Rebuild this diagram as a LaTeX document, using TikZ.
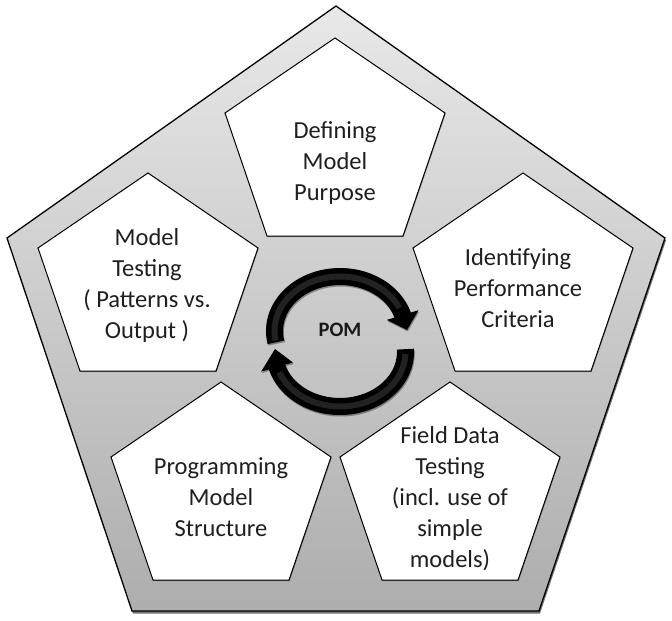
\documentclass[tikz,border=0pt]{standalone}
\usepackage{fontspec}
\setmainfont{Carlito}
\usetikzlibrary{shadows}
\begin{document}
\begin{tikzpicture}[x=1pt,y=-1pt,
  outerpent/.style={draw=black, line width=1.3pt, top color=white!91!black, bottom color=white!68!black,
    drop shadow={shadow xshift=1pt, shadow yshift=-2.5pt, opacity=0.55, fill=black}},
  innerpent/.style={draw=black, line width=1pt, fill=white,
    drop shadow={shadow xshift=0.6pt, shadow yshift=-1.2pt, opacity=0.35, fill=black}},
  lbl/.style={font=\fontsize{24.5}{31}\selectfont, align=center, text=black!88, inner sep=0pt},
  pomlbl/.style={font=\fontsize{20.5}{24}\selectfont\bfseries, text=black!90, inner sep=0pt},
  arrowbody/.style={fill=black, drop shadow={shadow xshift=0.8pt, shadow yshift=-1.5pt, opacity=0.35, fill=black}},
  gloss/.style={draw=white!45!black, line width=6pt, opacity=0.3, line cap=butt},
  pent/.pic={\path[innerpent] (0,0) -- (110,75) -- (68,198) -- (-68,198) -- (-110,75) -- cycle;}
]
\useasboundingbox (0,0) rectangle (672,621);
% outer pentagon
\path[outerpent] (336,6) -- (665,238) -- (539,611) -- (132,611) -- (7,238) -- cycle;
% inner pentagons
\pic (pdef) at (335,38) {pent};
\pic (pid) at (523,173) {pent};
\pic (pmt) at (148,173) {pent};
\pic (ppr) at (221,382) {pent};
\pic (pfd) at (450,382) {pent};
% labels
\node[lbl] (def) at (335,163) {Defining\\Model\\Purpose};
\node[lbl] (ident) at (518,288) {Identifying\\Performance\\Criteria};
\node[lbl] (mtest) at (147,285) {Model\\Testing\\( Patterns vs.\\Output )};
\node[lbl] (prog) at (221,497) {Programming\\Model\\Structure};
\node[lbl] (field) at (450,499) {Field Data\\Testing\\(incl. use of\\simple\\models)};
% circular arrows
\path[arrowbody] ({340+74*cos(168)},{331+63*sin(168)}) arc[start angle=168, end angle=343, x radius=74, y radius=63]
  -- ({340+82*cos(343)},{331+71*sin(343)}) -- (407,330)
  -- ({340+49*cos(343)},{331+38*sin(343)}) -- ({340+57*cos(343)},{331+46*sin(343)})
  arc[start angle=343, end angle=168, x radius=57, y radius=46] -- cycle;
\path[arrowbody] ({340+74*cos(-3)},{352+63*sin(-3)}) arc[start angle=-3, end angle=164, x radius=74, y radius=63]
  -- ({340+82*cos(164)},{352+71*sin(164)}) -- (275,349)
  -- ({340+49*cos(164)},{352+38*sin(164)}) -- ({340+57*cos(164)},{352+46*sin(164)})
  arc[start angle=164, end angle=-3, x radius=57, y radius=46] -- cycle;
\draw[gloss] ({340+65.5*cos(170)},{331+54.5*sin(170)}) arc[start angle=170, end angle=335, x radius=65.5, y radius=54.5];
\draw[gloss] ({340+65.5*cos(2)},{352+54.5*sin(2)}) arc[start angle=2, end angle=158, x radius=65.5, y radius=54.5];
\node[pomlbl] (pom) at (340,330) {POM};
\end{tikzpicture}
\end{document}
